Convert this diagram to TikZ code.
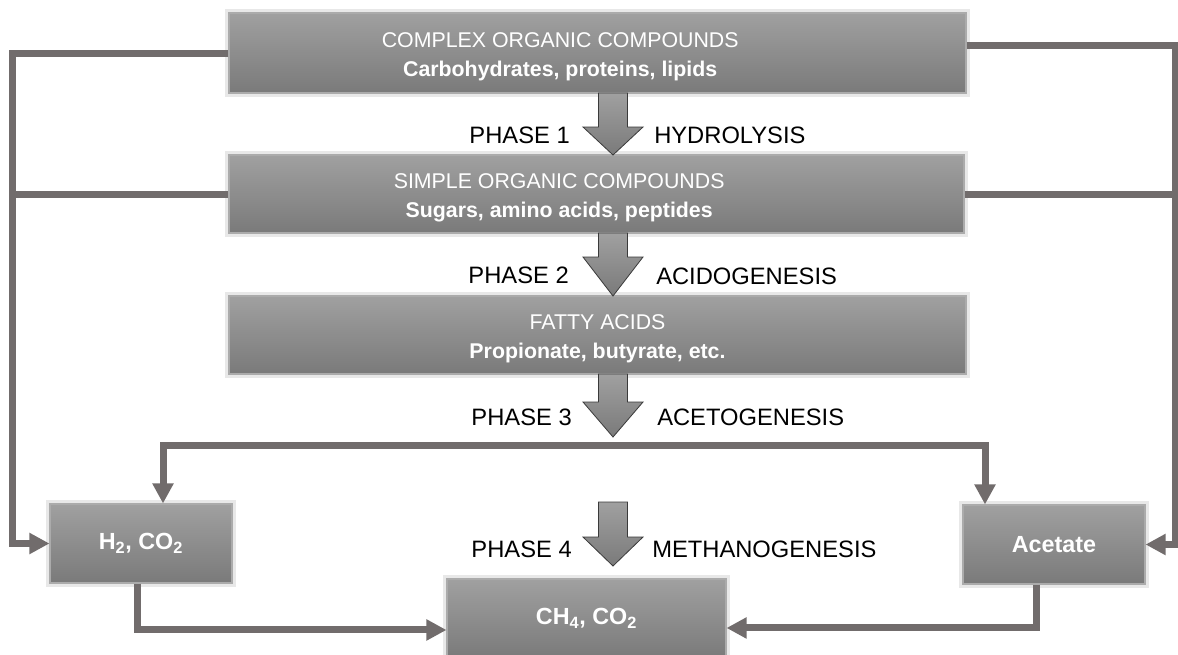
\documentclass[tikz,border=0pt]{standalone}
\usepackage{fontspec}
\setmainfont{Liberation Sans}
\usetikzlibrary{arrows.meta}

\definecolor{boxtop}{HTML}{A0A0A0}
\definecolor{boxbot}{HTML}{7A7A7A}
\definecolor{boxrim}{HTML}{ABABAB}
\definecolor{flowgray}{HTML}{716C6C}
\definecolor{phaseedge}{HTML}{3A3A3A}

\tikzset{
    stage/.style={rectangle, top color=boxtop, bottom color=boxbot, draw=boxrim, line width=0.8pt,
        preaction={draw=black!9, line width=6pt}, text=white, inner sep=0pt, align=center},
    stagetxt/.style={text=white, align=center, inner sep=0pt, font=\fontsize{16}{21.5}\selectfont},
    smalltxt/.style={font=\fontsize{17.5}{21}\selectfont\bfseries},
    phaselbl/.style={inner sep=0pt, font=\fontsize{17.8}{21}\selectfont},
    flow/.style={draw=flowgray, line width=5.25pt, -{Triangle[width=15pt,length=15pt]}},
    link/.style={draw=flowgray, line width=5.25pt},
    phasearrow/.style={top color=boxtop, bottom color=boxbot, draw=phaseedge, line width=0.6pt, line join=miter}
}

\begin{document}
\begin{tikzpicture}[x=0.75pt,y=-0.75pt]
    \useasboundingbox (0,0) rectangle (1178,654);
    \fill[white] (0,0) rectangle (1178,654);

    % stages
    \node[stage, minimum width=552.75pt, minimum height=60pt,
        label={[stagetxt, xshift=-28pt, yshift=-3pt]center:{COMPLEX ORGANIC COMPOUNDS\\\textbf{Carbohydrates, proteins, lipids}}}]
        (complex) at (597.5,53) {};
    \node[stage, minimum width=551.25pt, minimum height=58.5pt,
        label={[stagetxt, xshift=-28pt, yshift=-3pt]center:{SIMPLE ORGANIC COMPOUNDS\\\textbf{Sugars, amino acids, peptides}}}]
        (simple) at (596.5,194) {};
    \node[stage, minimum width=552.75pt, minimum height=58.5pt,
        label={[stagetxt, yshift=-3pt]center:{FATTY ACIDS\\\textbf{Propionate, butyrate, etc.}}}]
        (fatty) at (597.5,335) {};
    \node[stage, smalltxt, minimum width=136.5pt, minimum height=59.25pt] (hydrogen) at (141,543.5)
        {H\textsubscript{2}, CO\textsubscript{2}};
    \node[stage, smalltxt, minimum width=136.5pt, minimum height=59.25pt] (acetate) at (1054,544.5) {Acetate};
    \node[stage, smalltxt, minimum width=209.25pt, minimum height=59.25pt] (biogas) at (586.5,618.5)
        {CH\textsubscript{4}, CO\textsubscript{2}};

    % phase arrows
    \foreach \t/\b/\p in {93/127/155, 233/257/296, 374/402/437, 502/537/566}
        \draw[phasearrow] (598.5,\t) -- (598.5,\b) -- (583,\b) -- (613,\p) -- (643,\b) -- (627.5,\b) -- (627.5,\t) -- cycle;

    \node[phaselbl, anchor=east] (ph1) at (570,135) {PHASE 1};
    \node[phaselbl, anchor=west] (hydro) at (654,135) {HYDROLYSIS};
    \node[phaselbl, anchor=east] (ph2) at (569,275) {PHASE 2};
    \node[phaselbl, anchor=west] (acido) at (656,276) {ACIDOGENESIS};
    \node[phaselbl, anchor=east] (ph3) at (572,417) {PHASE 3};
    \node[phaselbl, anchor=west] (aceto) at (657,417) {ACETOGENESIS};
    \node[phaselbl, anchor=east] (ph4) at (572,549) {PHASE 4};
    \node[phaselbl, anchor=west] (metha) at (652,549) {METHANOGENESIS};

    % side loops
    \draw[flow] (complex.west) -- ++(-216,0) |- (hydrogen.west);
    \draw[link] (simple.west) -- ++(-216,0);
    \draw[flow] ([yshift=6pt]complex.east) -- ++(209,0) |- (acetate.east);
    \draw[link] (simple.east) -- ++(211,0);

    % acetogenesis split
    \coordinate (split) at (574,445);
    \draw[flow] (split) -| ([xshift=16.5pt]hydrogen.north);
    \draw[flow] (split) -| ([xshift=-51.75pt]acetate.north);

    % into methane
    \draw[flow] ([xshift=-3pt]hydrogen.south) |- ([yshift=-8.6pt]biogas.west);
    \draw[flow] ([xshift=-13.5pt]acetate.south) |- ([yshift=-7.1pt]biogas.east);
\end{tikzpicture}
\end{document}
